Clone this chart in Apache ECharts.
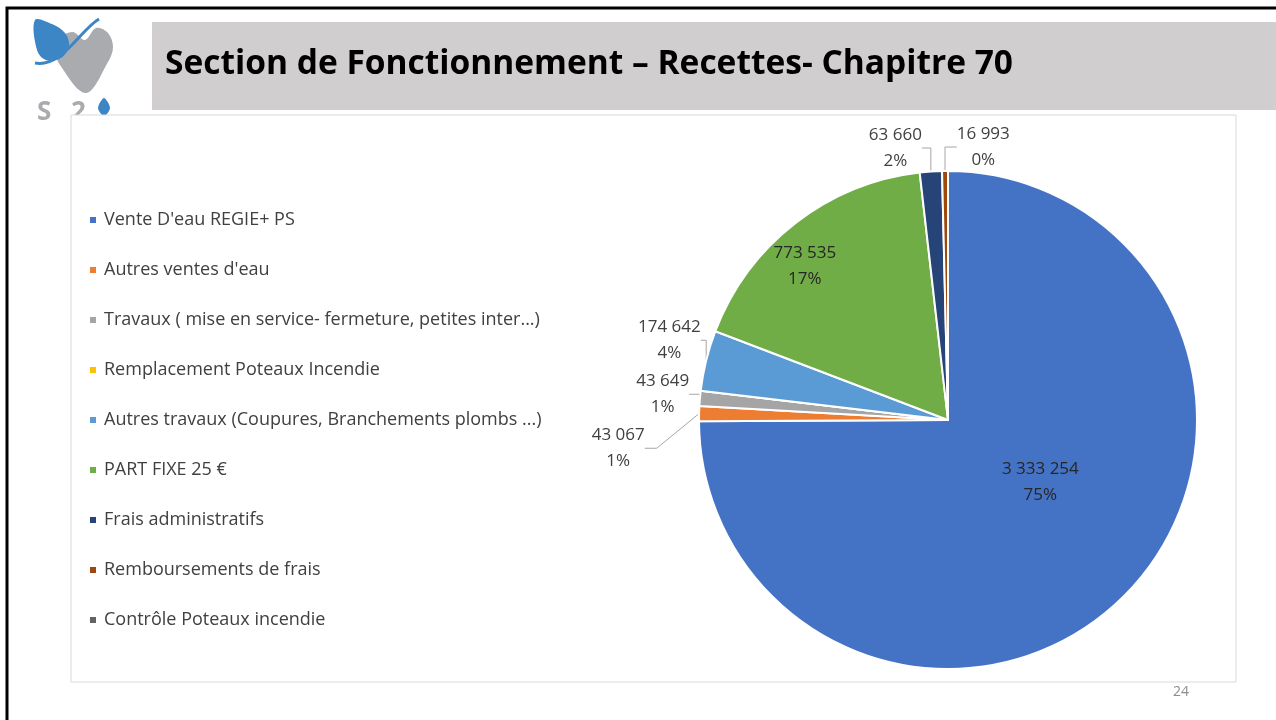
<!DOCTYPE html>
<html>
<head>
    <meta charset="utf-8">
    <title>Recettes - Chapitre 70</title>
    <script src="https://cdn.jsdelivr.net/npm/echarts@6/dist/echarts.min.js"></script>
    <style type="text/css">
        html, body { margin: 0; padding: 0; background: #fff; }
        #main { width: 1276px; height: 720px; }
    </style>
</head>
<body>
<div id="main"></div>
<script type="text/javascript">
    // données du graphique
    var categories = [
        "Vente D'eau REGIE+ PS",
        "Autres ventes d'eau",
        "Travaux ( mise en service- fermeture, petites inter...)",
        "Remplacement Poteaux Incendie",
        "Autres travaux (Coupures, Branchements plombs ...)",
        "PART FIXE 25 €",
        "Frais administratifs",
        "Remboursements de frais",
        "Contrôle Poteaux incendie"
    ];
    var values = [3333254, 43067, 43649, 0, 174642, 773535, 63660, 16993, 0];
    var colors = ['#4472C4', '#ED7D31', '#A5A5A5', '#FFC000', '#5B9BD5', '#70AD47', '#264478', '#9E480E', '#636363'];
    // étiquettes dans la part (grandes parts)
    var insideLabels = [0, 5];
    // décalage des étiquettes par rapport au placement auto (comme Excel)
    var labelShift = [[2, -28], [-28, -16], [20, -16], [0, 0], [24, -16], [-65, -53], [147, -59], [82, -6], [0, 0]];

    function fmt(n) {
        return String(n).replace(/\B(?=(\d{3})+(?!\d))/g, ' ');
    }

    var pieData = values.map(function (v, i) {
        var item = {name: categories[i], value: v};
        if (v === 0) {
            item.label = {show: false};
            item.labelLine = {show: false};
        } else if (insideLabels.indexOf(i) >= 0) {
            item.label = {position: 'inner', color: '#262626'};
        }
        return item;
    });

    var chart = echarts.init(document.getElementById('main'));
    chart.setOption({
        animation: false,
        color: colors,
        textStyle: {fontFamily: 'Open Sans'},
        graphic: [
            // cadre de la diapositive
            {type: 'rect', shape: {x: 7, y: 8, width: 1280, height: 730}, style: {fill: null, stroke: '#000', lineWidth: 3}, z: 1},
            // bandeau du titre
            {type: 'rect', shape: {x: 152, y: 22, width: 1130, height: 88}, style: {fill: '#D0CECE'}, z: 1},
            {type: 'text', x: 165, y: 47, style: {text: 'Section de Fonctionnement – Recettes- Chapitre 70', font: 'bold 33.5px "Open Sans"', fill: '#000'}, z: 2},
            // logo
            {type: 'polygon', shape: {smooth: 0.35, points: [[86, 93], [60, 65], [55, 49], [61, 37], [73, 32], [85, 40], [96, 28], [108, 33], [113, 47], [108, 62]]}, style: {fill: '#A9ABAE'}, z: 2},
            {type: 'polygon', shape: {smooth: 0.35, points: [[35, 20], [52, 24], [65, 33], [69, 46], [61, 58], [46, 60], [37, 50]]}, style: {fill: '#3C86C6'}, z: 3},
            {type: 'bezierCurve', shape: {x1: 35, y1: 63, cpx1: 62, cpy1: 68, cpx2: 80, cpy2: 30, x2: 99, y2: 19}, style: {fill: null, stroke: '#3C86C6', lineWidth: 3}, z: 3},
            {type: 'text', x: 37, y: 100, style: {text: 'S', font: 'bold 26px "Open Sans"', fill: '#A9ABAE'}, z: 2},
            {type: 'text', x: 71, y: 100, style: {text: '2', font: 'bold 26px "Open Sans"', fill: '#A9ABAE'}, z: 2},
            {type: 'polygon', shape: {smooth: 0.3, points: [[104, 98], [110, 108], [104, 116], [98, 108]]}, style: {fill: '#3C86C6'}, z: 2},
            // zone du graphique
            {type: 'rect', shape: {x: 71, y: 115, width: 1165, height: 567}, style: {fill: '#fff', stroke: '#D9D9D9', lineWidth: 1}, z: 4},
            {type: 'text', x: 1173, y: 685, style: {text: '24', font: '14px "Open Sans"', fill: '#8C8C8C'}, z: 5}
        ],
        legend: {
            orient: 'vertical',
            left: 83,
            top: 205,
            icon: 'rect',
            itemWidth: 8,
            itemHeight: 8,
            itemGap: 30,
            textStyle: {fontSize: 18, color: '#404040', lineHeight: 20, padding: [0, 0, 0, 2]},
            data: categories,
            z: 10
        },
        series: [{
            type: 'pie',
            center: [948, 420],
            radius: 249,
            startAngle: 90,
            clockwise: true,
            percentPrecision: 0,
            z: 10,
            itemStyle: {borderColor: '#fff', borderWidth: 2},
            label: {
                show: true,
                fontSize: 17,
                color: '#404040',
                lineHeight: 26,
                formatter: function (p) {
                    return fmt(p.value) + '\n' + p.percent + '%';
                }
            },
            labelLine: {show: true, length: 18, length2: 12, lineStyle: {color: '#A6A6A6', width: 1}},
            labelLayout: function (params) {
                var r = params.labelRect;
                var s = labelShift[params.dataIndex];
                return {
                    x: r.x + r.width / 2 + s[0],
                    y: r.y + r.height / 2 + s[1],
                    align: 'center',
                    verticalAlign: 'middle'
                };
            },
            data: pieData
        }]
    });
</script>
</body>
</html>
